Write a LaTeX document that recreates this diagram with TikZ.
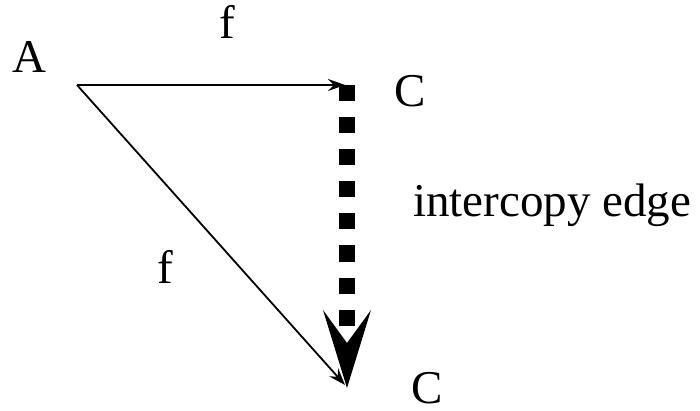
\documentclass[tikz,border=0pt]{standalone}
\usepackage{fontspec}
\setmainfont{Liberation Serif}
\usetikzlibrary{arrows.meta}
\begin{document}
\begin{tikzpicture}[x=1pt,y=-1pt,
  lbl/.style={inner sep=0pt,anchor=base west,font=\fontsize{47}{56}\selectfont},
  thinarrow/.style={line width=1.8pt,-{Stealth[length=17pt,width=12pt,inset=6pt]}},
  copyedge/.style={line width=16pt,dash pattern=on 16pt off 16.1pt}]
\useasboundingbox (0,0) rectangle (700,411);
\coordinate (pA) at (77,85);
\coordinate (pC1) at (345,85);
\coordinate (pC2) at (345,385);
\coordinate (dTop) at (347,85);
\coordinate (dEnd) at (347,326);
\coordinate (hTip) at (347,388);
\coordinate (hL) at (323,310);
\coordinate (hN) at (347,343);
\coordinate (hR) at (371,310);
\node[lbl] (A) at (12,73) {A};
\node[lbl] (f1) at (219,39) {f};
\node[lbl] (C1) at (394,107) {C};
\node[lbl,text depth=0pt] (ice) at (413,217) {intercopy edge};
\node[lbl] (f2) at (157,283) {f};
\node[lbl,text depth=0pt] (C2) at (411,403) {C};
\draw[copyedge] (dTop) -- (dEnd);
\fill (hTip) -- (hL) -- (hN) -- (hR) -- cycle;
\draw[thinarrow] (pA) -- (pC1);
\draw[thinarrow] (pA) -- (pC2);
\end{tikzpicture}
\end{document}
